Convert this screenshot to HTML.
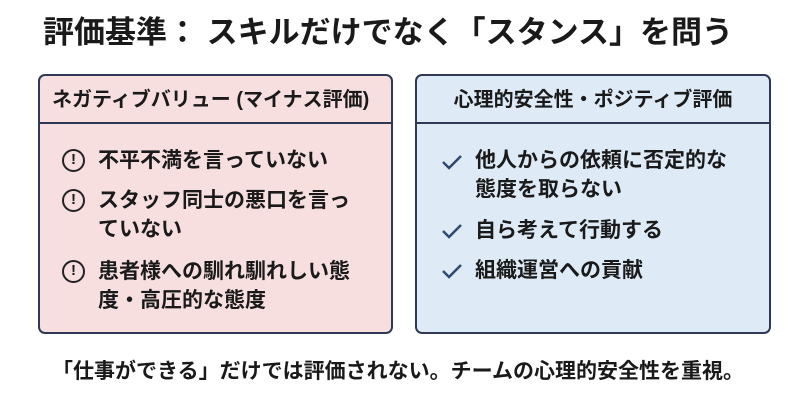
<!DOCTYPE html>
<html><head><meta charset="utf-8"><style>
body{margin:0;width:800px;height:403px;background:#fff;font-family:"Liberation Sans","Noto Sans CJK JP",sans-serif;font-weight:bold;color:#1a1a1a;position:relative;overflow:hidden}
.t{position:absolute;left:43px;top:7px;font-size:31px;white-space:nowrap;letter-spacing:0px}
.box{position:absolute;top:74px;height:260px;border:2px solid #2e3a55;border-radius:7px;box-sizing:border-box}
.l{left:38px;width:355px;background:#f8dfdf}
.r{left:415px;width:356px;background:#deebf7}
.h{height:48px;border-bottom:2px solid #2e3a55;font-size:20px;line-height:48px;box-sizing:border-box;white-space:nowrap}
.item{position:absolute;font-size:21px;line-height:29px}
.ic{position:absolute;left:22px;width:23px;height:23px;border:2.5px solid #222;border-radius:50%;box-sizing:border-box;font-size:15px;line-height:18px;text-align:center}
.ck{position:absolute;left:24px}
.f{position:absolute;left:52px;top:355px;font-size:21px;white-space:nowrap}
</style></head><body>
<div class="t">評価基準： スキルだけでなく「スタンス」を問う</div>
<div class="box l">
<div class="h" style="padding-left:12px">ネガティブバリュー (マイナス評価)</div>
<div class="ic" style="top:73px">!</div><div class="item" style="left:58px;top:70px">不平不満を言っていない</div>
<div class="ic" style="top:113px">!</div><div class="item" style="left:58px;top:110px">スタッフ同士の悪口を言っ<br>ていない</div>
<div class="ic" style="top:184px">!</div><div class="item" style="left:58px;top:181px">患者様への馴れ馴れしい態<br>度・高圧的な態度</div>
</div>
<div class="box r">
<div class="h" style="text-align:center">心理的安全性・ポジティブ評価</div>
<svg class="ck" style="top:78px" width="22" height="16"><path d="M2 8 L8 14 L20 2" fill="none" stroke="#2e4a70" stroke-width="2.5"/></svg>
<div class="item" style="left:58px;top:70px">他人からの依頼に否定的な<br>態度を取らない</div>
<svg class="ck" style="top:147px" width="22" height="16"><path d="M2 8 L8 14 L20 2" fill="none" stroke="#2e4a70" stroke-width="2.5"/></svg>
<div class="item" style="left:58px;top:140px">自ら考えて行動する</div>
<svg class="ck" style="top:187px" width="22" height="16"><path d="M2 8 L8 14 L20 2" fill="none" stroke="#2e4a70" stroke-width="2.5"/></svg>
<div class="item" style="left:58px;top:180px">組織運営への貢献</div>
</div>
<div class="f">「仕事ができる」だけでは評価されない。チームの心理的安全性を重視。</div>
</body></html>
